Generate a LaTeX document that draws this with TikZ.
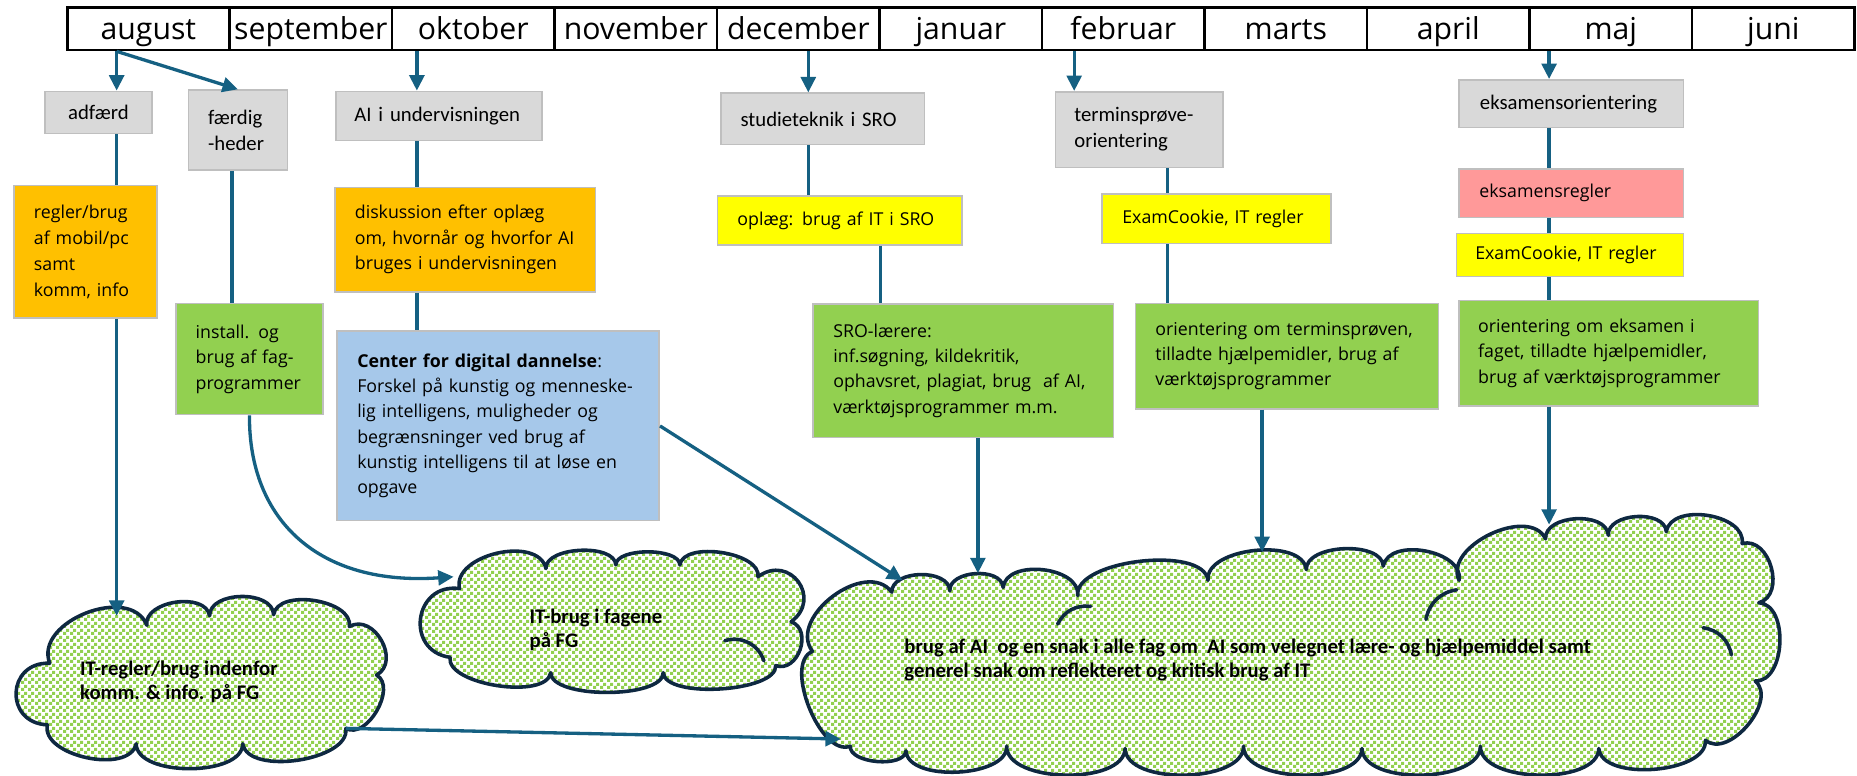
\documentclass[tikz,border=0pt]{standalone}
\usepackage{fontspec}
\setmainfont{Open Sans}
\newfontfamily\narrowfont{Carlito}
\usetikzlibrary{arrows.meta,patterns,calc}
\definecolor{arrowblue}{HTML}{156082}
\definecolor{boxgray}{HTML}{D9D9D9}
\definecolor{boxedge}{HTML}{BFBFBF}
\definecolor{orangebox}{HTML}{FFC000}
\definecolor{greenbox}{HTML}{92D050}
\definecolor{bluebox}{HTML}{A6C8EA}
\definecolor{yellowbox}{HTML}{FFFF00}
\definecolor{pinkbox}{HTML}{FF9999}
\definecolor{cloudedge}{HTML}{0E2841}
\pgfdeclarepatternformonly{greensq}{\pgfpointorigin}{\pgfpoint{5.6pt}{5.6pt}}{\pgfpoint{5.6pt}{5.6pt}}{%
  \pgfpathrectangle{\pgfpointorigin}{\pgfpoint{2.7pt}{2.7pt}}%
  \pgfpathrectangle{\pgfpoint{2.8pt}{2.8pt}}{\pgfpoint{2.7pt}{2.7pt}}%
  \pgfusepath{fill}}
\begin{document}
\begin{tikzpicture}[x=1pt,y=-1pt,
  month/.style={draw=black, line width=2.3pt, minimum width=137.2pt, minimum height=36pt, inner sep=0pt, text height=25pt, text depth=6pt, font=\fontsize{25.5}{28}\selectfont},
  graybox/.style={draw=boxedge, fill=boxgray, line width=1.3pt, anchor=north west, inner ysep=0pt, align=left, font=\narrowfont\fontsize{17.5}{22}\selectfont},
  cbox/.style={draw=boxedge, line width=1.3pt, anchor=north west, inner ysep=0pt, inner xsep=17pt, align=left, font=\fontsize{15}{21.5}\selectfont},
  arr/.style={draw=arrowblue, line width=2.8pt, -{Triangle[length=13pt,width=12.5pt]}},
  conn/.style={draw=arrowblue, line width=2.8pt},
  cloudpath/.style={draw=cloudedge, line width=3pt, line join=round, preaction={fill=white}, pattern=greensq, pattern color=greenbox},
  innerarc/.style={draw=cloudedge, line width=3pt, line cap=round},
  puff/.style={bend left=90},
  cloudtext/.style={anchor=west, align=left, inner sep=0pt, font=\narrowfont\bfseries\fontsize{17.5}{20}\selectfont}
]
\useasboundingbox (0,0) rectangle (1568,654.4);

% ---------- clouds ----------
\path[cloudpath] (42,560) to[puff, looseness=1.1] (124,528) to[puff] (177,520) to[puff] (231,519)
  to[puff, looseness=.9] (295,529) to[puff, looseness=1.3] (318,570) to[puff] (292,615)
  to[puff, looseness=.8] (205,628) to[puff, looseness=.8] (115,628) to[puff, looseness=.9] (40,612)
  to[puff, looseness=1.8] (42,560) -- cycle;
\coordinate (c1) at (170,580);
\path[cloudpath] (380,555) to[puff, looseness=1.7] (388,497) to[puff] (461,480) to[puff, looseness=.8] (520,477)
  to[puff, looseness=.7] (574,477) to[puff, looseness=.8] (640,487) to[puff, looseness=1.8] (668,525)
  to[puff, looseness=1.3] (655,562) to[puff, looseness=.6] (560,568) to[puff, looseness=.6] (465,568)
  to[puff, looseness=.7] (380,555) -- cycle;
\coordinate (c2) at (514,522);
\draw[innerarc] (612,541) to[bend left=45] (645,558);
\path[cloudpath] (718,630) to[puff, looseness=.8] (686,550) to[puff, looseness=1.1] (753,500)
  to[puff] (802,499) to[puff] (847,496) to[puff] (910,503) to[puff, looseness=.7] (1020,490)
  to[puff, looseness=.85] (1103,481) to[puff, looseness=.85] (1168,478) to[puff] (1232,490)
  to[puff] (1305,455) to[puff] (1358,452) to[puff] (1407,449) to[puff] (1471,459)
  to[puff, looseness=1.2] (1485,509) to[puff] (1482,575) to[puff] (1440,625)
  to[puff, looseness=.8] (1350,632) to[puff, looseness=.8] (1250,630) to[puff, looseness=.8] (1150,632)
  to[puff, looseness=.8] (1050,630) to[puff, looseness=.8] (950,632) to[puff, looseness=.8] (850,630)
  to[puff, looseness=.8] (765,634) to[puff, looseness=.8] (718,630) -- cycle;
\coordinate (big) at (1100,560);
\draw[innerarc] (893,527) to[bend left=35] (921,512);
\draw[innerarc] (1204,523) to[bend left=35] (1230,498);
\draw[innerarc] (1438,530) to[bend left=35] (1462,553);

\node[cloudtext] (c1t) at (67.5,576) {IT-regler/brug indenfor\\komm. \& info. på FG};
\node[cloudtext] (c2t) at (447,532) {IT-brug i fagene\\på FG};
\node[cloudtext] (bigt) at (763.5,557) {brug af AI\ \ og en snak i alle fag om\ \ AI som velegnet lære- og hjælpemiddel samt\\generel snak om reflekteret og kritisk brug af IT};

% ---------- month bar ----------
\foreach \m [count=\i] in {august,september,oktober,november,december,januar,februar,marts,april,maj,juni}
  \node[month] (m\i) at ({56.7+137.2*(\i-0.5)},24.2) {\m};

% ---------- gray boxes ----------
\node[graybox, minimum width=90.1pt, minimum height=35.5pt, inner xsep=0pt] (adf) at (37.4,76.5) {adfærd};
\node[graybox, inner xsep=16.5pt, text width=50.5pt, minimum height=67.6pt] (fh) at (158.5,75.4) {færdig\\-heder};
\node[graybox, inner xsep=15.5pt, text width=143pt, minimum height=41.5pt] (ai) at (283,76.5) {AI i undervisningen};
\node[graybox, inner xsep=16.7pt, text width=138.6pt, minimum height=43.5pt] (st) at (608,78) {studieteknik i SRO};
\node[graybox, inner xsep=16pt, text width=109.5pt, minimum height=63.9pt] (tp) at (890.5,76.8) {terminsprøve-\\orientering};
\node[graybox, inner xsep=17.5pt, text width=154.5pt, minimum height=40.3pt] (ek) at (1231.5,66.7) {eksamensorientering};

% ---------- coloured boxes ----------
\node[cbox, fill=orangebox, text width=87pt, minimum height=112pt, font=\fontsize{15}{22}\selectfont] (o1) at (11,156)
  {\mbox{regler/brug}\\\mbox{af mobil/pc}\\samt\\\mbox{komm, info}};
\node[cbox, fill=greenbox, inner xsep=16.6pt, text width=90.8pt, minimum height=94pt] (g1) at (148,255.5)
  {\mbox{install. og}\\\mbox{brug af fag-}\\\mbox{programmer}};
\node[cbox, fill=orangebox, text width=186pt, minimum height=88.5pt] (o2) at (282,157.5)
  {\mbox{diskussion efter oplæg}\\\mbox{om, hvornår og hvorfor AI}\\\mbox{bruges i undervisningen}};
\node[cbox, fill=bluebox, text width=238pt, minimum height=160pt, font=\fontsize{15}{21.3}\selectfont] (bl) at (284,279)
  {\mbox{\textbf{Center for digital dannelse}:}\\\mbox{Forskel på kunstig og menneske-}\\\mbox{lig intelligens, muligheder og}\\\mbox{begrænsninger ved brug af}\\\mbox{kunstig intelligens til at løse en}\\opgave};
\node[cbox, fill=yellowbox, text width=172.7pt, minimum height=41pt] (y1) at (605,165) {\mbox{oplæg: brug af IT i SRO}};
\node[cbox, fill=greenbox, text width=219.6pt, minimum height=112.6pt] (g2) at (686,256)
  {\mbox{SRO-lærere:}\\\mbox{inf.søgning, kildekritik,}\\\mbox{ophavsret, plagiat, brug\ \ af AI,}\\\mbox{værktøjsprogrammer m.m.}};
\node[cbox, fill=yellowbox, text width=159pt, minimum height=42pt] (y2) at (930,163) {\mbox{ExamCookie, IT regler}};
\node[cbox, fill=greenbox, text width=222pt, minimum height=89.1pt] (g3) at (958,255.5)
  {\mbox{orientering om terminsprøven,}\\\mbox{tilladte hjælpemidler, brug af}\\\mbox{værktøjsprogrammer}};
\node[cbox, fill=pinkbox, text width=155.5pt, minimum height=41pt] (pk) at (1231.5,142) {eksamensregler};
\node[cbox, fill=yellowbox, inner xsep=16pt, text width=160pt, minimum height=36.6pt] (y3) at (1229,196.4) {\mbox{ExamCookie, IT regler}};
\node[cbox, fill=greenbox, inner xsep=16pt, text width=220.5pt, minimum height=89pt] (g4) at (1231.5,253)
  {\mbox{orientering om eksamen i}\\\mbox{faget, tilladte hjælpemidler,}\\\mbox{brug af værktøjsprogrammer}};

% ---------- connector x positions and free ends ----------
\coordinate (xa) at (98.5,0);
\coordinate (xj) at (196,0);
\coordinate (xb) at (352,0);
\coordinate (xc) at (682.5,0);
\coordinate (xd) at (743.6,0);
\coordinate (xe) at (825.7,0);
\coordinate (xf) at (907,0);
\coordinate (xg) at (986,0);
\coordinate (xh) at (1065.7,0);
\coordinate (xi) at (1308,0);
\coordinate (t1) at (98.5,520);
\coordinate (t2) at (383,487);
\coordinate (t3) at (762,490);
\coordinate (t4) at (825.7,484);
\coordinate (t5) at (1065.7,466);
\coordinate (t6) at (1308,443);
\coordinate (s1) at (292,615);
\coordinate (t7) at (710,624);

% ---------- connectors ----------
\draw[arr] (m1.south -| xa) -- (adf.north -| xa);
\draw[arr] (m1.south -| xa) -- (fh.north);
\draw[conn] (adf.south -| xa) -- (o1.north -| xa);
\draw[arr] (o1.south -| xa) -- (t1);
\draw[conn] (fh.south -| xj) -- (g1.north -| xj);
\draw[arr] (g1.south) .. controls (210,440) and (270,495) .. (t2);
\draw[arr] (m3.south -| xb) -- (ai.north -| xb);
\draw[conn] (ai.south -| xb) -- (o2.north -| xb);
\draw[conn] (o2.south -| xb) -- (bl.north -| xb);
\draw[arr] (bl.east) -- (t3);
\draw[arr] (m5.south -| xc) -- (st.north -| xc);
\draw[conn] (st.south -| xc) -- (y1.north -| xc);
\draw[conn] (y1.south -| xd) -- (g2.north -| xd);
\draw[arr] (g2.south -| xe) -- (t4);
\draw[arr] (m7.south -| xf) -- (tp.north -| xf);
\draw[conn] (tp.south -| xg) -- (y2.north -| xg);
\draw[conn] (y2.south -| xg) -- (g3.north -| xg);
\draw[arr] (g3.south -| xh) -- (t5);
\draw[arr] (m10.south -| xi) -- (ek.north -| xi);
\draw[conn] (ek.south -| xi) -- (pk.north -| xi);
\draw[conn] (pk.south -| xi) -- (y3.north -| xi);
\draw[conn] (y3.south -| xi) -- (g4.north -| xi);
\draw[arr] (g4.south -| xi) -- (t6);
\draw[arr] (s1) -- (t7);
\end{tikzpicture}
\end{document}
